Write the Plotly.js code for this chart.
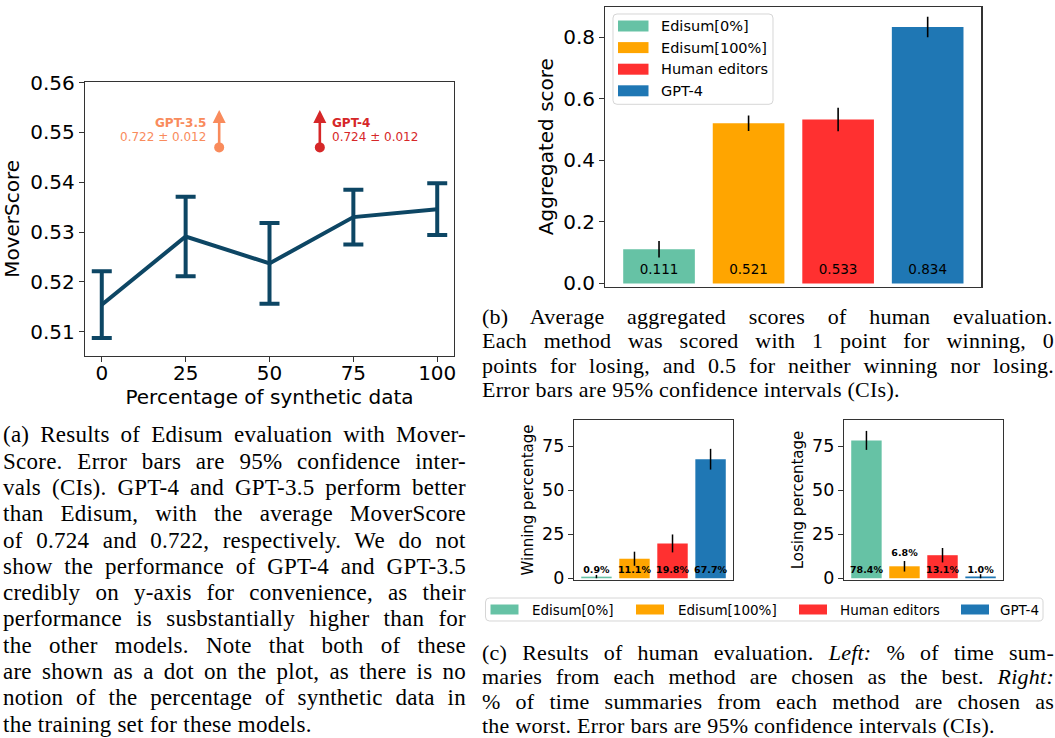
<!DOCTYPE html>
<html><head><meta charset="utf-8">
<script src="https://cdn.plot.ly/plotly-3.0.1.min.js"></script>
<style>html,body{margin:0;padding:0;background:#fff}#plot{width:1055px;height:738px}</style>
</head><body><div id="plot"></div><script>
const W=1055,H=738;
// ---- (a) MoverScore ----
const synthPct=[0,25,50,75,100];
const moverScore=[0.5154,0.5291,0.5237,0.5330,0.5346];
const moverErr=[0.0067,0.0080,0.0081,0.0055,0.0052];
const gptNames=['GPT-3.5','GPT-4'];
const gptScores=['0.722 ± 0.012','0.724 ± 0.012'];
const gptDotX=[35,65];
const gptDotY=[0.547,0.547];
// ---- (b) aggregated scores ----
const methods=['Edisum[0%]','Edisum[100%]','Human editors','GPT-4'];
const aggScore=[0.111,0.521,0.533,0.834];
const aggErr=[0.027,0.025,0.038,0.033];
const aggLabels=['0.111','0.521','0.533','0.834'];
// ---- (c) winning / losing ----
const winPct=[0.9,11.1,19.8,67.7];
const winErrPlus=[1.0,4.0,5.1,5.9];
const winErrMinus=[0.9,4.0,5.1,5.9];
const winLabels=['0.9%','11.1%','19.8%','67.7%'];
const losePct=[78.4,6.8,13.1,1.0];
const loseErrPlus=[5.4,3.0,4.1,1.3];
const loseErrMinus=[5.4,3.0,4.1,1.0];
const loseLabels=['78.4%','6.8%','13.1%','1.0%'];
// ---- captions ----
const capA=['(a) Results of Edisum evaluation with Mover-','Score. Error bars are 95% confidence inter-','vals (CIs). GPT-4 and GPT-3.5 perform better','than Edisum, with the average MoverScore','of 0.724 and 0.722, respectively. We do not','show the performance of GPT-4 and GPT-3.5','credibly on y-axis for convenience, as their','performance is susbstantially higher than for','the other models. Note that both of these','are shown as a dot on the plot, as there is no','notion of the percentage of synthetic data in','the training set for these models.'];
const capB=['(b) Average aggregated scores of human evaluation.','Each method was scored with 1 point for winning, 0','points for losing, and 0.5 for neither winning nor losing.','Error bars are 95% confidence intervals (CIs).'];
const capC=['(c) Results of human evaluation. <i>Left:</i> % of time sum-','maries from each method are chosen as the best. <i>Right:</i>','% of time summaries from each method are chosen as','the worst. Error bars are 95% confidence intervals (CIs).'];

const colors=['#66c2a5','#ffa500','#ff3030','#1f77b4'];
const lineCol='#0d4664', c35='#f98b5c', c4='#d62728';
const SANS='DejaVu Sans', SERIF='Liberation Serif';
const px=v=>v/W, py=v=>1-v/H;

const traces=[];
traces.push({x:synthPct,y:moverScore,type:'scatter',mode:'lines',line:{color:lineCol,width:4},
  error_y:{type:'data',array:moverErr,visible:true,color:lineCol,thickness:4,width:10},
  xaxis:'x',yaxis:'y',showlegend:false,hoverinfo:'skip'});
traces.push({x:gptDotX,y:gptDotY,type:'scatter',mode:'markers',marker:{color:[c35,c4],size:10},
  xaxis:'x',yaxis:'y',showlegend:false});
methods.forEach((m,i)=>{
  traces.push({type:'bar',x:[i],y:[aggScore[i]],width:0.8,name:m,marker:{color:colors[i]},
    error_y:{type:'data',array:[aggErr[i]],visible:true,color:'#000',thickness:1.6,width:0},
    xaxis:'x2',yaxis:'y2',showlegend:false});
  traces.push({type:'bar',x:[i],y:[winPct[i]],width:0.8,name:m,marker:{color:colors[i]},
    error_y:{type:'data',array:[winErrPlus[i]],arrayminus:[winErrMinus[i]],symmetric:false,visible:true,color:'#000',thickness:1.5,width:0},
    xaxis:'x3',yaxis:'y3',showlegend:false});
  traces.push({type:'bar',x:[i],y:[losePct[i]],width:0.8,name:m,marker:{color:colors[i]},
    error_y:{type:'data',array:[loseErrPlus[i]],arrayminus:[loseErrMinus[i]],symmetric:false,visible:true,color:'#000',thickness:1.5,width:0},
    xaxis:'x4',yaxis:'y4',showlegend:false});
});
traces.push({type:'scatter',mode:'text',x:[0,1,2,3],y:aggScore.map(()=>0.041),text:aggLabels,
  textfont:{family:SANS,size:13.5,color:'#000'},xaxis:'x2',yaxis:'y2',showlegend:false,hoverinfo:'skip'});
traces.push({type:'scatter',mode:'text',x:[0,1,2,3],y:winPct.map(()=>4.4),text:winLabels.map(t=>'<b>'+t+'</b>'),
  textfont:{family:SANS,size:9.5,color:'#000'},xaxis:'x3',yaxis:'y3',showlegend:false,hoverinfo:'skip'});
traces.push({type:'scatter',mode:'text',x:[0,1,2,3],
  y:losePct.map((v,i)=>i===1?v+loseErrPlus[i]+4.0:4.6),text:loseLabels.map(t=>'<b>'+t+'</b>'),
  textfont:{family:SANS,size:9.5,color:'#000'},xaxis:'x4',yaxis:'y4',showlegend:false,hoverinfo:'skip'});

const box={showline:true,mirror:true,linecolor:'#333',linewidth:1.2,showgrid:false,zeroline:false,
  ticks:'outside',ticklen:5,tickcolor:'#333',tickfont:{family:SANS,size:20,color:'#000'}};
const noX={...box,ticks:'',showticklabels:false,range:[-0.59,3.59]};

const ann=[], shapes=[];
// arrows and labels (a)
gptDotX.forEach((x,i)=>{
  const col=i?c4:c35;
  ann.push({xref:'x',yref:'y',axref:'x',ayref:'y',x:x,y:gptDotY[i]+0.0075,ax:x,ay:gptDotY[i]+0.0004,
    showarrow:true,arrowhead:2,arrowsize:1,arrowwidth:2.6,arrowcolor:col,text:''});
  const tx=i?x+3.1:x-3.2, anc=i?'left':'right';
  ann.push({xref:'x',yref:'y',x:tx,y:gptDotY[i]+0.0049,text:'<b>'+gptNames[i]+'</b>',showarrow:false,
    xanchor:anc,yanchor:'middle',font:{family:SANS,size:12,color:col}});
  ann.push({xref:'x',yref:'y',x:tx,y:gptDotY[i]+0.0020,text:gptScores[i],showarrow:false,
    xanchor:anc,yanchor:'middle',font:{family:SANS,size:12,color:col}});
});
// legends (drawn as shapes + texts)
function rrect(x0,y0,x1,y1,r){
  const X=v=>px(v).toFixed(5), Y=v=>py(v).toFixed(5);
  return 'M'+X(x0+r)+','+Y(y0)+' L'+X(x1-r)+','+Y(y0)+' Q'+X(x1)+','+Y(y0)+' '+X(x1)+','+Y(y0+r)+
    ' L'+X(x1)+','+Y(y1-r)+' Q'+X(x1)+','+Y(y1)+' '+X(x1-r)+','+Y(y1)+' L'+X(x0+r)+','+Y(y1)+
    ' Q'+X(x0)+','+Y(y1)+' '+X(x0)+','+Y(y1-r)+' L'+X(x0)+','+Y(y0+r)+' Q'+X(x0)+','+Y(y0)+' '+X(x0+r)+','+Y(y0)+' Z';
}
function legendBox(x0,y0,x1,y1){
  shapes.push({type:'path',xref:'paper',yref:'paper',path:rrect(x0,y0,x1,y1,4),fillcolor:'rgba(255,255,255,0.85)',line:{color:'#d6d6d6',width:1}});
}
function legendItem(sx,sy,sw,sh,tx,label,col,fs){
  shapes.push({type:'rect',xref:'paper',yref:'paper',x0:px(sx),x1:px(sx+sw),y0:py(sy+sh/2),y1:py(sy-sh/2),fillcolor:col,line:{width:0}});
  ann.push({xref:'paper',yref:'paper',x:px(tx),y:py(sy),xanchor:'left',yanchor:'middle',showarrow:false,
    text:label,font:{family:SANS,size:fs,color:'#000'}});
}
legendBox(613,14,773,104.3);
methods.forEach((m,i)=>legendItem(618,26+i*21.6,30.5,11,659,m,colors[i],14.5));
legendBox(485.5,598,1043,621);
const l2sw=[490.5,636,799,961], l2tx=[530,675.5,838,998];
methods.forEach((m,i)=>legendItem(l2sw[i],609.5,28,10,l2tx[i],m,colors[i],13.5));

// captions
const cv=document.createElement('canvas').getContext('2d');
const LS=0.25;
function measure(t,it,fs){cv.font=(it?'italic ':'')+fs+'px "'+SERIF+'"';return cv.measureText(t).width+LS*t.length;}
function justify(line,target,doJ,fs){
  const segs=line.split(/(<i>.*?<\/i>)/).filter(s=>s.length).map(p=>p.startsWith('<i>')?{t:p.slice(3,-4),i:true}:{t:p,i:false});
  const w=segs.reduce((a,s)=>a+measure(s.t,s.i,fs),0);
  const n=segs.reduce((a,s)=>a+(s.t.match(/ /g)||[]).length,0);
  const ws=doJ&&n?(target-w)/n:0;
  return segs.map(s=>'<span style="letter-spacing:'+LS+'px;word-spacing:'+ws.toFixed(2)+'px'+(s.i?';font-style:italic':'')+'">'+s.t+'</span>').join('');
}
function caption(lines,x0,x1,base0,step,fs){
  lines.forEach((l,k)=>{
    const doJ=k<lines.length-1;
    ann.push({xref:'paper',yref:'paper',x:px(x0),y:py(base0+k*step-0.31*fs),xanchor:'left',yanchor:'middle',
      showarrow:false,text:justify(l,x1-x0,doJ,fs),font:{family:SERIF,size:fs,color:'#000'}});
  });
}
caption(capA,1,464,442,26.3,23);
caption(capB,480,1052,323,24.5,22);
caption(capC,480,1052,659,24.5,22);

const layout={width:W,height:H,margin:{l:0,r:0,t:0,b:0},paper_bgcolor:'#fff',plot_bgcolor:'#fff',
  barmode:'overlay',font:{family:SANS,color:'#000'},showlegend:false,
  xaxis:{...box,domain:[px(85),px(454)],range:[-5,105],tickvals:synthPct,anchor:'y',ticklabelstandoff:-6,
    title:{text:'Percentage of synthetic data',font:{family:SANS,size:20},standoff:0}},
  yaxis:{...box,domain:[py(356),py(81.7)],range:[0.5051,0.5602],dtick:0.01,tickformat:'.2f',anchor:'x',
    title:{text:'MoverScore',font:{family:SANS,size:20},standoff:6}},
  xaxis2:{...noX,domain:[px(605.3),px(981.4)],range:[-0.6,3.6],anchor:'y2'},
  yaxis2:{...box,domain:[py(286.5),py(6.7)],range:[-0.01,0.9],tickvals:[0,0.2,0.4,0.6,0.8],tickformat:'.1f',anchor:'x2',
    title:{text:'Aggregated score',font:{family:SANS,size:20},standoff:4}},
  xaxis3:{...noX,domain:[px(574),px(733)],anchor:'y3'},
  yaxis3:{...box,domain:[py(580),py(420)],range:[-1,90],tickvals:[0,25,50,75],anchor:'x3',tickfont:{family:SANS,size:17.5,color:'#000'},
    title:{text:'Winning percentage',font:{family:SANS,size:15},standoff:4}},
  xaxis4:{...noX,domain:[px(844),px(1003)],anchor:'y4'},
  yaxis4:{...box,domain:[py(580),py(420)],range:[-1,90],tickvals:[0,25,50,75],anchor:'x4',tickfont:{family:SANS,size:17.5,color:'#000'},
    title:{text:'Losing percentage',font:{family:SANS,size:15},standoff:4}},
  annotations:ann,shapes:shapes};
Plotly.newPlot('plot',traces,layout,{staticPlot:true,displayModeBar:false});
</script></body></html>
